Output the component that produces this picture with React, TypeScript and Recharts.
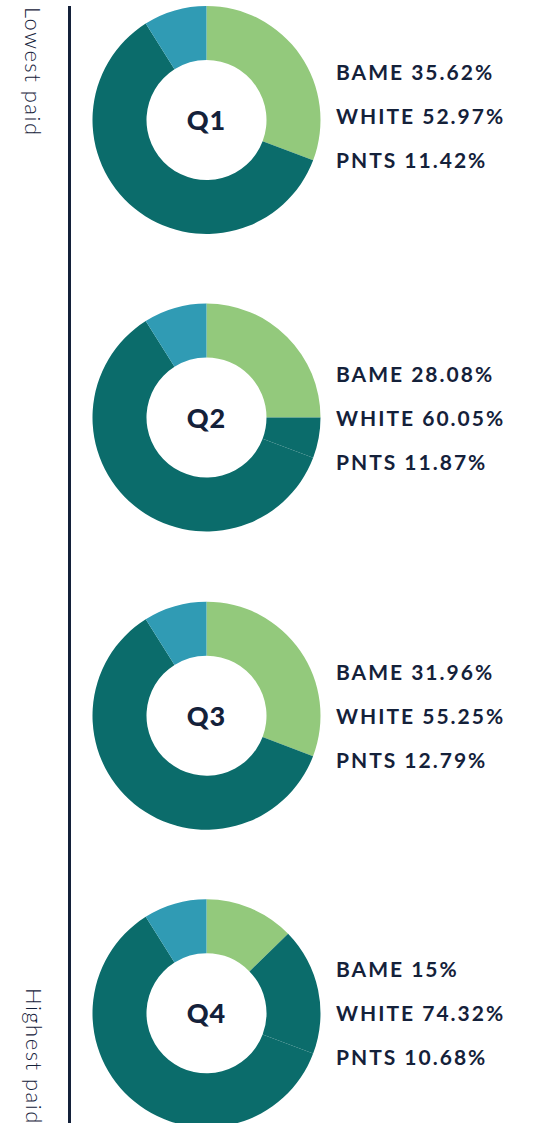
import React from "react";
import { PieChart, Pie, Cell } from "recharts";

// Quarter names and the percentages written beside each ring
const quarters = ["Q1", "Q2", "Q3", "Q4"];
const bameShare = ["35.62%", "28.08%", "31.96%", "15%"];
const whiteShare = ["52.97%", "60.05%", "55.25%", "74.32%"];
const pntsShare = ["11.42%", "11.87%", "12.79%", "10.68%"];

// Slice sizes as drawn in the rings (percent of the full circle)
const greenArc = [30.75, 25.0, 30.8, 12.7];
const tealUpperArc = [0, 5.75, 0, 18.05];
const tealLowerArc = [60.3, 60.3, 60.3, 60.3];
const blueArc = [8.95, 8.95, 8.95, 8.95];

const axisLabels = ["Lowest paid", "Highest paid"];

const COLORS = ["#93C97C", "#0B6C6B", "#0B6C6B", "#309BB4"];
const TEXT = "#14213A";

const W = 533;
const H = 1123;
const CX = 206.5;
const CY = [120, 417.5, 715.7, 1013.3];
const LABEL_SHIFT = [-4, 0, 0, 0];

export default function App() {
  const ringData = quarters.map((q, i) => [
    { name: "green", value: greenArc[i] },
    { name: "tealUpper", value: tealUpperArc[i] },
    { name: "tealLower", value: tealLowerArc[i] },
    { name: "blue", value: blueArc[i] },
  ]);

  const sideStyle: React.CSSProperties = {
    position: "absolute",
    transformOrigin: "0 0",
    transform: "rotate(90deg)",
    whiteSpace: "nowrap",
    fontSize: 22,
    fontWeight: 300,
    letterSpacing: 1.5,
    color: TEXT,
    lineHeight: "24px",
  };

  return (
    <div
      style={{
        position: "absolute",
        left: 0,
        top: 0,
        width: W,
        height: H,
        overflow: "hidden",
        background: "#fff",
        fontFamily: "Lato, sans-serif",
      }}
    >
      <PieChart
        width={W}
        height={H}
        margin={{ top: 0, right: 0, bottom: 0, left: 0 }}
        style={{ position: "absolute", left: 0, top: 0 }}
      >
        {quarters.map((q, i) => (
          <Pie
            key={q}
            data={ringData[i]}
            dataKey="value"
            nameKey="name"
            cx={CX}
            cy={CY[i]}
            innerRadius={60}
            outerRadius={114}
            startAngle={90}
            endAngle={-270}
            stroke="none"
            isAnimationActive={false}
          >
            {ringData[i].map((d, j) => (
              <Cell key={d.name} fill={COLORS[j]} stroke="none" />
            ))}
          </Pie>
        ))}
      </PieChart>

      {/* ring centre labels */}
      {quarters.map((q, i) => (
        <div
          key={"c" + q}
          style={{
            position: "absolute",
            left: CX - 40,
            width: 80,
            top: CY[i] - 17,
            height: 34,
            lineHeight: "34px",
            textAlign: "center",
            fontSize: 27,
            fontWeight: 900,
            letterSpacing: 1,
            color: TEXT,
          }}
        >
          {q}
        </div>
      ))}

      {/* vertical axis line */}
      <div
        style={{
          position: "absolute",
          left: 68,
          top: 6,
          width: 2.5,
          height: H,
          background: TEXT,
        }}
      />

      {/* rotated axis labels */}
      <div style={{ ...sideStyle, left: 45, top: 7 }}>{axisLabels[0]}</div>
      <div style={{ ...sideStyle, left: 46, top: 988 }}>{axisLabels[1]}</div>

      {/* right-side percentages */}
      {quarters.map((q, i) => {
        const rows = [
          `BAME ${bameShare[i]}`,
          `WHITE ${whiteShare[i]}`,
          `PNTS ${pntsShare[i]}`,
        ];
        return rows.map((t, k) => (
          <div
            key={q + k}
            style={{
              position: "absolute",
              left: 336,
              top: CY[i] + LABEL_SHIFT[i] + (k - 1) * 44 - 14,
              height: 28,
              lineHeight: "28px",
              fontSize: 21,
              fontWeight: 700,
              letterSpacing: 2,
              color: TEXT,
              whiteSpace: "nowrap",
            }}
          >
            {t}
          </div>
        ));
      })}
    </div>
  );
}
